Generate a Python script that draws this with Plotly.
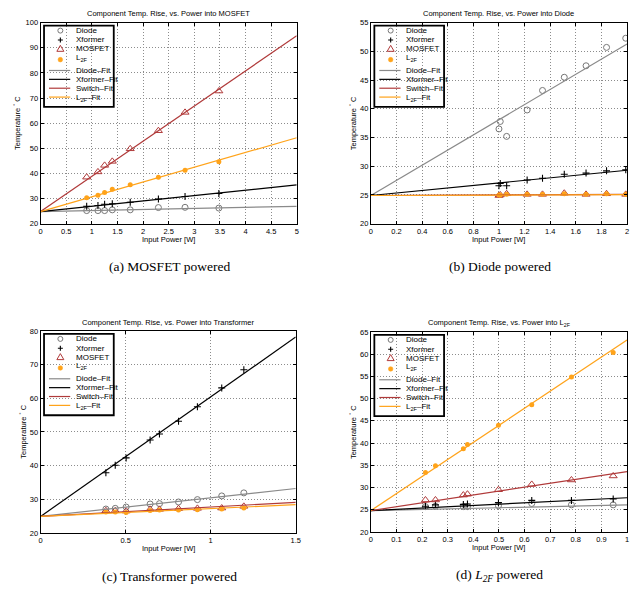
import plotly.graph_objects as go

W, H = 635, 599

# ---------------- data ----------------
# (a) power into MOSFET
a_power = [0.9, 1.12, 1.25, 1.4, 1.75, 2.3, 2.82, 3.48]
a_diode = [25.2, 25.2, 25.2, 25.5, 25.5, 26.4, 26.5, 26.2]
a_xformer = [26.9, 27.2, 27.7, 27.9, 28.5, 29.8, 30.8, 32.0]
a_mosfet = [38.5, 40.6, 43.2, 44.8, 49.8, 57.0, 64.3, 72.8]
a_l2f = [30.3, 31.3, 32.4, 33.7, 35.5, 38.5, 41.3, 44.6]
a_fit_x = [0, 5]
a_fit_diode = [24.8, 26.9]
a_fit_xformer = [24.8, 35.4]
a_fit_switch = [24.8, 94.8]
a_fit_l2f = [24.8, 54.2]

# (b) power into Diode
b_power = [1.0, 1.01, 1.06, 1.22, 1.34, 1.51, 1.68, 1.84, 1.99]
b_diode = [36.5, 37.8, 35.2, 39.8, 43.2, 45.5, 47.5, 50.7, 52.3]
b_xformer = [26.6, 27.0, 26.6, 27.6, 27.9, 28.6, 28.8, 29.2, 29.4]
b_mosfet = [24.9, 25.0, 25.2, 25.1, 25.1, 25.3, 25.1, 25.2, 25.1]
b_l2f = [25.0, 25.0, 25.1, 25.1, 25.1, 25.2, 25.1, 25.2, 25.1]
b_fit_x = [0, 2]
b_fit_diode = [24.9, 51.3]
b_fit_xformer = [24.9, 29.3]
b_fit_switch = [24.9, 25.1]
b_fit_l2f = [24.9, 25.05]

# (c) power into Transformer
c_power = [0.384, 0.439, 0.503, 0.644, 0.699, 0.811, 0.922, 1.065, 1.195]
c_diode = [27.1, 27.3, 27.7, 28.6, 28.7, 29.2, 29.9, 31.0, 31.9]
c_xformer = [37.9, 40.1, 42.3, 47.6, 49.4, 53.2, 57.5, 63.1, 68.5]
c_mosfet = [26.6, 26.6, 26.5, 27.0, 27.0, 27.2, 27.3, 27.4, 27.9]
c_l2f = [26.2, 26.2, 26.1, 26.7, 26.8, 26.8, 26.9, 27.1, 27.4]
c_fit_x = [0, 1.5]
c_fit_diode = [24.9, 33.2]
c_fit_xformer = [24.9, 78.2]
c_fit_switch = [24.9, 29.1]
c_fit_l2f = [24.9, 28.4]

# (d) power into L2F
d_power = [0.213, 0.252, 0.361, 0.377, 0.498, 0.628, 0.783, 0.946]
d_diode = [25.7, 25.8, 25.7, 25.7, 25.9, 26.4, 26.1, 26.1]
d_xformer = [25.8, 26.1, 26.2, 26.3, 26.6, 27.1, 27.1, 27.4]
d_mosfet = [27.2, 27.2, 28.3, 28.5, 29.5, 30.7, 31.7, 32.6]
d_l2f = [33.4, 34.9, 38.7, 39.7, 44.0, 48.6, 54.9, 60.4]
d_fit_x = [0, 1]
d_fit_diode = [24.8, 26.1]
d_fit_xformer = [24.8, 27.7]
d_fit_switch = [24.8, 33.6]
d_fit_l2f = [24.8, 63.2]

titles = [
    "Component Temp. Rise, vs. Power into MOSFET",
    "Component Temp. Rise, vs. Power into Diode",
    "Component Temp. Rise, vs. Power into Transformer",
    "Component Temp. Rise, vs. Power into L<sub>2F</sub>",
]
captions = [
    "(a) MOSFET powered",
    "(b) Diode powered",
    "(c) Transformer powered",
    "(d) <i>L</i><sub><i>2F</i></sub> powered",
]
x_ranges = [[0, 5], [0, 2], [0, 1.5], [0, 1]]
x_dticks = [0.5, 0.2, 0.5, 0.1]
y_ranges = [[20, 100], [20, 55], [20, 80], [20, 65]]
y_dticks = [10, 5, 10, 5]

# ---------------- styling ----------------
GRAY = "#777777"
GRAYLINE = "#8a8a8a"
RED = "#B03A3A"
ORANGE = "#FFA31A"
FONT = "Liberation Sans, Arial, sans-serif"

# plot rectangles in pixels: left, top, right, bottom
rects = [(39, 19, 298, 223), (373, 19, 632, 223), (39, 332, 297, 537), (373, 333, 632, 536)]
ytitle_x = [15, 355, 21, 355]


def px(x):
    return x / W


def py(y):
    return 1 - y / H


fig = go.Figure()

panels = [
    (a_power, a_diode, a_xformer, a_mosfet, a_l2f, a_fit_x, a_fit_diode, a_fit_xformer, a_fit_switch, a_fit_l2f),
    (b_power, b_diode, b_xformer, b_mosfet, b_l2f, b_fit_x, b_fit_diode, b_fit_xformer, b_fit_switch, b_fit_l2f),
    (c_power, c_diode, c_xformer, c_mosfet, c_l2f, c_fit_x, c_fit_diode, c_fit_xformer, c_fit_switch, c_fit_l2f),
    (d_power, d_diode, d_xformer, d_mosfet, d_l2f, d_fit_x, d_fit_diode, d_fit_xformer, d_fit_switch, d_fit_l2f),
]

layout = dict(
    width=W, height=H, margin=dict(l=0, r=0, t=0, b=0),
    paper_bgcolor="white", plot_bgcolor="white",
    showlegend=False, font=dict(family=FONT, color="black"),
)
shapes = []
boxes = []
annotations = []

for i, (p, dio, xf, mos, l2, fx, fd, fxf, fs, fl) in enumerate(panels):
    n = "" if i == 0 else str(i + 1)
    xa, ya = "x" + n, "y" + n
    L, T, R, B = rects[i]
    common = dict(
        showgrid=True, gridcolor="#8c8c8c", griddash="1px,2px", gridwidth=1,
        showline=True, linecolor="black", linewidth=1, mirror="ticks",
        ticks="inside", ticklen=3, tickcolor="black", tickwidth=1,
        tickfont=dict(size=7.5, family=FONT, color="black"), zeroline=False,
    )
    layout["xaxis" + n] = dict(common, domain=[px(L), px(R)], range=x_ranges[i],
                               dtick=x_dticks[i], tick0=0, anchor=ya)
    layout["yaxis" + n] = dict(common, domain=[py(B), py(T)], range=y_ranges[i],
                               dtick=y_dticks[i], tick0=0, anchor=xa)

    fig.add_trace(go.Scatter(x=p, y=dio, mode="markers", xaxis=xa, yaxis=ya,
                             marker=dict(symbol="circle-open", size=6, color=GRAY, line=dict(width=1))))
    fig.add_trace(go.Scatter(x=p, y=xf, mode="markers", xaxis=xa, yaxis=ya,
                             marker=dict(symbol="cross-thin-open", size=5, color="black", line=dict(width=1.1, color="black"))))
    fig.add_trace(go.Scatter(x=p, y=mos, mode="markers", xaxis=xa, yaxis=ya,
                             marker=dict(symbol="triangle-up-open", size=7, color=RED, line=dict(width=1))))
    fig.add_trace(go.Scatter(x=p, y=l2, mode="markers", xaxis=xa, yaxis=ya,
                             marker=dict(symbol="circle", size=5, color=ORANGE)))
    for fy, col in [(fd, GRAYLINE), (fxf, "black"), (fs, RED), (fl, ORANGE)]:
        fig.add_trace(go.Scatter(x=fx, y=fy, mode="lines", xaxis=xa, yaxis=ya,
                                 line=dict(color=col, width=1.2)))

    cx = (L + R) / 2
    annotations.append(dict(text=titles[i], x=px(cx), y=py(T - 9), xref="paper", yref="paper",
                            showarrow=False, xanchor="center", yanchor="middle",
                            font=dict(size=7.5, family=FONT)))
    annotations.append(dict(text="Input Power [W]", x=px(cx), y=py(B + 16), xref="paper", yref="paper",
                            showarrow=False, xanchor="center", yanchor="middle",
                            font=dict(size=7.5, family=FONT)))
    annotations.append(dict(text="Temperature <sup>°</sup> C", x=px(ytitle_x[i]), y=py((T + B) / 2),
                            xref="paper", yref="paper", showarrow=False, textangle=-90,
                            xanchor="center", yanchor="middle", font=dict(size=7.5, family=FONT)))
    annotations.append(dict(text=captions[i], x=px(cx + 1), y=py(B + 43 if i < 2 else B + 44),
                            xref="paper", yref="paper", showarrow=False, xanchor="center", yanchor="middle",
                            font=dict(size=13.5, family="Liberation Serif, Times New Roman, serif")))

    # ----- legend box (decoration) -----
    shapes.append(dict(type="rect", xref="paper", yref="paper", layer="between",
                       x0=px(L + 3), x1=px(L + 74.5), y0=py(T + 86), y1=py(T + 2.5),
                       line=dict(width=0), fillcolor="white"))
    boxes.append(dict(type="rect", xref="paper", yref="paper", layer="above",
                      x0=px(L + 3.5), x1=px(L + 74), y0=py(T + 85.5), y1=py(T + 3),
                      line=dict(color="#000000", width=1.8), fillcolor="rgba(0,0,0,0)"))
    sx = L + 20
    rows = [T + 8, T + 17.5, T + 26.5, T + 37.5]
    shapes.append(dict(type="circle", xref="paper", yref="paper", layer="above",
                       xsizemode="pixel", ysizemode="pixel", xanchor=px(sx), yanchor=py(rows[0]),
                       x0=-2.5, x1=2.5, y0=-2.5, y1=2.5, line=dict(color=GRAY, width=1)))
    shapes.append(dict(type="path", xref="paper", yref="paper", layer="above",
                       xsizemode="pixel", ysizemode="pixel", xanchor=px(sx), yanchor=py(rows[1]),
                       path="M-2.5,0 L2.5,0 M0,-2.5 L0,2.5", line=dict(color="black", width=1.1)))
    shapes.append(dict(type="path", xref="paper", yref="paper", layer="above",
                       xsizemode="pixel", ysizemode="pixel", xanchor=px(sx), yanchor=py(rows[2]),
                       path="M-3.5,-2.5 L3.5,-2.5 L0,3.5 Z", line=dict(color=RED, width=1)))
    shapes.append(dict(type="circle", xref="paper", yref="paper", layer="above",
                       xsizemode="pixel", ysizemode="pixel", xanchor=px(sx), yanchor=py(rows[3]),
                       x0=-2.3, x1=2.3, y0=-2.3, y1=2.3, line=dict(color=ORANGE, width=0.5),
                       fillcolor=ORANGE))
    labels_m = ["Diode", "Xformer", "MOSFET", "L<sub>2F</sub>"]
    for j, lab in enumerate(labels_m):
        yy = rows[j] - (2 if j == 3 else 0)
        annotations.append(dict(text=lab, x=px(L + 33.5), y=py(yy), xref="paper", yref="paper",
                                showarrow=False, xanchor="left", yanchor="middle",
                                font=dict(size=8, family=FONT)))
    lrows = [T + 48.5, T + 57.5, T + 66.5, T + 75.5]
    labels_l = ["Diode–Fit", "Xformer–Fit", "Switch–Fit", "L<sub>2F</sub>–Fit"]
    cols = [GRAYLINE, "black", RED, ORANGE]
    for j, lab in enumerate(labels_l):
        shapes.append(dict(type="line", xref="paper", yref="paper", layer="above",
                           x0=px(L + 8.5), x1=px(L + 30), y0=py(lrows[j]), y1=py(lrows[j]),
                           line=dict(color=cols[j], width=1.2)))
        yy = lrows[j] + (1 if j == 3 else 0)
        annotations.append(dict(text=lab, x=px(L + 33.5), y=py(yy), xref="paper", yref="paper",
                                showarrow=False, xanchor="left", yanchor="middle",
                                font=dict(size=8, family=FONT)))

layout["shapes"] = shapes + boxes
layout["annotations"] = annotations
fig.update_layout(**layout)
fig.write_html("out.html", config={"displayModeBar": False},
               post_script="document.body.style.margin='0';document.body.style.padding='0';")
